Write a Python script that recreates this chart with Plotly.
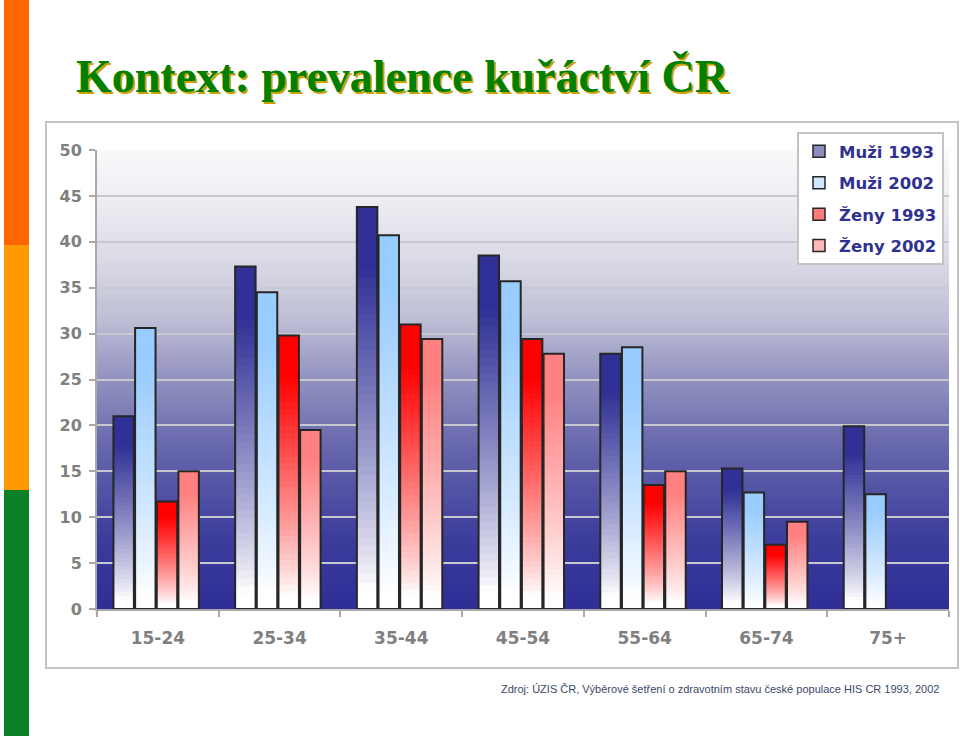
import zlib, struct, base64
import plotly.graph_objects as go

# ---------------- data ----------------
categories = ["15-24", "25-34", "35-44", "45-54", "55-64", "65-74", "75+"]
muzi_1993 = [21.0, 37.3, 43.8, 38.5, 27.8, 15.3, 19.9]
muzi_2002 = [30.6, 34.5, 40.7, 35.7, 28.5, 12.7, 12.5]
zeny_1993 = [11.7, 29.8, 31.0, 29.4, 13.5, 7.0, None]
zeny_2002 = [15.0, 19.5, 29.4, 27.8, 15.0, 9.5, None]
series_names = ["Muži 1993", "Muži 2002", "Ženy 1993", "Ženy 2002"]
y_ticks = [0, 5, 10, 15, 20, 25, 30, 35, 40, 45, 50]

title_text = "Kontext: prevalence kuřáctví ČR"
source_text = "Zdroj: ÚZIS ČR, Výběrové šetření o zdravotním stavu české populace HIS CR 1993, 2002"

# ---------------- style ----------------
W, H = 960, 736
PL, PR, PT, PB = 97, 949, 150, 609   # plot area in pixels
top_colors = [(48, 48, 150), (153, 204, 255), (255, 0, 0), (255, 128, 128)]
legend_colors = ["#8c8cbf", "#cfe6ff", "#ff7a7a", "#ffb8b8"]
bar_width = 0.168
bar_offsets = [-0.365 + i * 0.178 for i in range(4)]
N_LAYERS = 45


def px_x(px):
    return (px - PL) / (PR - PL)


def px_y(py):
    return (PB - py) / (PB - PT)


def clip(v):
    return max(0.0, min(1.0, v))


def mix(c, f):
    return tuple(int(round(255 + (ch - 255) * f)) for ch in c)


def rgb(c):
    return "rgb(%d,%d,%d)" % c


def png_gradient(colors):
    raw = b"".join(b"\x00" + bytes(c) for c in colors)

    def chunk(t, d):
        return struct.pack(">I", len(d)) + t + d + struct.pack(">I", zlib.crc32(t + d) & 0xFFFFFFFF)

    ihdr = struct.pack(">IIBBBBB", 1, len(colors), 8, 2, 0, 0, 0)
    data = b"\x89PNG\r\n\x1a\n" + chunk(b"IHDR", ihdr) + chunk(b"IDAT", zlib.compress(raw)) + chunk(b"IEND", b"")
    return "data:image/png;base64," + base64.b64encode(data).decode()


# background gradient stops (t: 0 bottom -> 1 top)
bg_stops = [(0.0, (46, 46, 150)), (0.15, (60, 60, 156)), (0.35, (102, 102, 172)),
            (0.5, (146, 146, 192)), (0.63, (190, 190, 214)), (0.76, (218, 218, 230)),
            (0.89, (237, 237, 243)), (1.0, (249, 249, 251))]


def bg_color(t):
    for (t0, c0), (t1, c1) in zip(bg_stops[:-1], bg_stops[1:]):
        if t0 <= t <= t1:
            f = (t - t0) / (t1 - t0)
            return tuple(int(round(a + (b - a) * f)) for a, b in zip(c0, c1))
    return bg_stops[-1][1]


bg_rows = [bg_color(1 - i / 459) for i in range(460)]
bg_src = png_gradient(bg_rows)

fig = go.Figure()

all_series = [muzi_1993, muzi_2002, zeny_1993, zeny_2002]

# gradient-filled bars: nested layers from base 0, darkest (tallest) first
for s, vals in enumerate(all_series):
    for k in range(N_LAYERS):
        frac = (N_LAYERS - k) / N_LAYERS
        t = frac - 0.5 / N_LAYERS
        f = clip((t - 0.05) / 0.8) ** 0.85
        col = rgb(mix(top_colors[s], f))
        fig.add_trace(go.Bar(
            x=categories,
            y=[None if v is None else v * frac for v in vals],
            width=bar_width, offset=bar_offsets[s],
            marker=dict(color=col, line=dict(width=0)),
            showlegend=False, hoverinfo="skip",
        ))

# outlines
for s, vals in enumerate(all_series):
    fig.add_trace(go.Bar(
        x=categories, y=vals, width=bar_width, offset=bar_offsets[s],
        marker=dict(color="rgba(0,0,0,0)", line=dict(color="#262626", width=2)),
        showlegend=False, name=series_names[s],
    ))

# legend entries
for s in range(4):
    fig.add_trace(go.Bar(
        x=[None], y=[None], name=series_names[s], legendgroup=series_names[s],
        marker=dict(color=legend_colors[s], line=dict(color="#262626", width=1.5)),
        showlegend=True,
    ))

shapes = []
# left colour stripe
stripe = [(0, 245, "#ff6600"), (245, 490, "#ff9900"), (490, 736, "#0a8028")]
for y0, y1, c in stripe:
    shapes.append(dict(type="rect", xref="paper", yref="paper",
                       x0=px_x(4), x1=px_x(29), y0=px_y(y1), y1=px_y(y0),
                       fillcolor=c, line=dict(width=0), layer="below"))
# chart frame
shapes.append(dict(type="rect", xref="paper", yref="paper",
                   x0=px_x(46), x1=px_x(958), y0=px_y(668), y1=px_y(122),
                   fillcolor="rgba(0,0,0,0)", line=dict(color="#c4c4c4", width=2), layer="below"))

annotations = [
    dict(text="<b>" + title_text + "</b>", xref="paper", yref="paper",
         x=px_x(74), y=px_y(77), xanchor="left", yanchor="middle", showarrow=False,
         font=dict(family="Liberation Serif", size=46, color="#008000",
                   shadow="2px 2px 0px #d0a000")),
    dict(text=source_text, xref="paper", yref="paper",
         x=px_x(941), y=px_y(689), xanchor="right", yanchor="middle", showarrow=False,
         font=dict(family="Liberation Sans", size=11, color="#3a4868")),
]

fig.update_layout(
    width=W, height=H, autosize=False,
    margin=dict(l=PL, r=W - PR, t=PT, b=H - PB, pad=0),
    paper_bgcolor="white", plot_bgcolor="rgba(0,0,0,0)",
    barmode="overlay",
    showlegend=True,
    legend=dict(
        x=px_x(797), y=px_y(132), xanchor="left", yanchor="top",
        bgcolor="white", bordercolor="#c4c4c4", borderwidth=2,
        font=dict(family="DejaVu Sans", size=16.5, color="#2e3192", weight="bold"),
        traceorder="grouped", tracegroupgap=7, itemwidth=30,
    ),
    images=[dict(source=bg_src, xref="paper", yref="paper", x=0, y=1, sizex=1, sizey=1,
                 xanchor="left", yanchor="top", sizing="stretch", layer="below")],
    shapes=shapes,
    annotations=annotations,
    xaxis=dict(
        type="category", categoryorder="array", categoryarray=categories,
        range=[-0.5, len(categories) - 0.5],
        showline=True, linecolor="#a8a8a8", linewidth=2,
        ticks="outside", tickson="boundaries", ticklen=6, tickcolor="#a8a8a8", tickwidth=2,
        showgrid=False, zeroline=False,
        tickfont=dict(family="DejaVu Sans", size=17, color="#808080", weight="bold"),
        ticklabelstandoff=13,
    ),
    yaxis=dict(
        range=[0, 50], tickvals=y_ticks,
        showline=True, linecolor="#a8a8a8", linewidth=2,
        ticks="outside", ticklen=6, tickcolor="#a8a8a8", tickwidth=2,
        showgrid=True, gridcolor="#c8c8d0", gridwidth=2, zeroline=False,
        tickfont=dict(family="DejaVu Sans", size=16, color="#808080", weight="bold"),
        ticklabelstandoff=4,
    ),
)

fig.write_html("out.html", config={"displayModeBar": False},
               post_script="document.body.style.margin='0';")
